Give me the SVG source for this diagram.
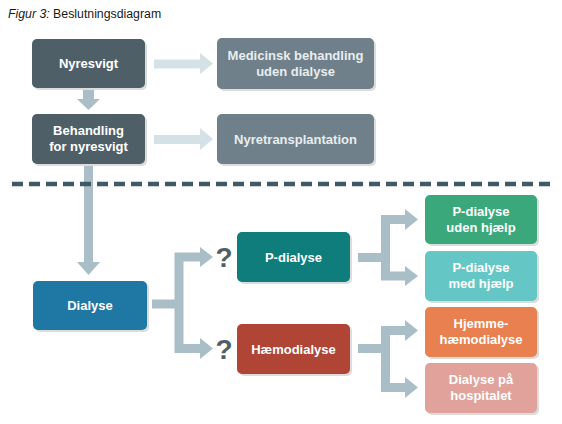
<svg xmlns="http://www.w3.org/2000/svg" width="562" height="424" viewBox="0 0 562 424">
<style>
.sh{fill:#dcdcdc}
.t{font-family:"Liberation Sans",Arial,sans-serif;font-weight:bold;font-size:13px;fill:#ffffff;text-anchor:middle}
.tl{fill:#e8edef}
.q{font-family:"Liberation Sans",Arial,sans-serif;font-weight:bold;font-size:28px;fill:#4f5f68;text-anchor:middle}
.c1{fill:#a9bec6}
.c2{fill:#d4e1e6}
.cs{fill:none;stroke:#a9bec6;stroke-width:9;stroke-linejoin:miter;stroke-linecap:butt}
</style>
<rect width="562" height="424" fill="#ffffff"/>
<text x="8" y="18" font-family="'Liberation Sans',Arial,sans-serif" font-size="12.3" fill="#1a1a1a"><tspan font-style="italic">Figur 3:</tspan> Beslutningsdiagram</text>

<g id="connectors">
  <polygon class="c2" points="154,59.5 200,59.5 200,53 213,63.5 200,74 200,68.5 154,68.5"/>
  <polygon class="c2" points="154,135 200,135 200,128 213,139 200,150 200,144 154,144"/>
  <polygon class="c1" points="83,88 94,88 94,99 100,99 88.5,110 77,99 83,99"/>
  <polygon class="c1" points="84,164 93,164 93,262 100,262 88.5,275 77,262 84,262"/>
  <path class="cs" d="M152,304 H179"/>
  <path class="cs" d="M201,257 H179 V348.5 H201" stroke-width="10"/>
  <polygon class="c1" points="200,247 213,257 200,267"/>
  <polygon class="c1" points="200,338 213,348.5 200,359"/>
  <path class="cs" d="M358,257.5 H386"/>
  <path class="cs" d="M406,219.5 H385.5 V276 H406"/>
  <polygon class="c1" points="405,209 418,219.5 405,230"/>
  <polygon class="c1" points="405,266 418,276 405,286"/>
  <path class="cs" d="M358,348.5 H386"/>
  <path class="cs" d="M406,330.5 H385.5 V387.5 H406"/>
  <polygon class="c1" points="405,320 418,330.5 405,341"/>
  <polygon class="c1" points="405,377 418,387.5 405,398"/>
</g>

<line x1="12" y1="184" x2="553" y2="184" stroke="#3f5a66" stroke-width="4.5" stroke-dasharray="11,6"/>

<text class="q" x="224" y="267">?</text>
<text class="q" x="224" y="359">?</text>

<g id="nyresvigt">
  <rect class="sh" x="34" y="41" width="113" height="49" rx="5"/>
  <rect x="32" y="39" width="113" height="49" rx="5" fill="#4f5f68"/>
  <text class="t" x="88.5" y="68">Nyresvigt</text>
</g>
<g id="behandling">
  <rect class="sh" x="34" y="116" width="113" height="50" rx="5"/>
  <rect x="32" y="114" width="113" height="50" rx="5" fill="#4f5f68"/>
  <text class="t" x="88.5" y="135">Behandling</text>
  <text class="t" x="88.5" y="151">for nyresvigt</text>
</g>
<g id="medicinsk">
  <rect class="sh" x="219" y="40" width="157" height="51" rx="5"/>
  <rect x="217" y="38" width="157" height="51" rx="5" fill="#6f808a"/>
  <text class="t tl" x="295.5" y="60">Medicinsk behandling</text>
  <text class="t tl" x="295.5" y="76">uden dialyse</text>
</g>
<g id="nyretransplantation">
  <rect class="sh" x="219" y="116" width="157" height="50" rx="5"/>
  <rect x="217" y="114" width="157" height="50" rx="5" fill="#6f808a"/>
  <text class="t tl" x="295.5" y="143.5">Nyretransplantation</text>
</g>
<g id="dialyse">
  <rect class="sh" x="35" y="283" width="114" height="49" rx="5"/>
  <rect x="33" y="281" width="114" height="49" rx="5" fill="#1f78a4"/>
  <text class="t" x="90" y="310">Dialyse</text>
</g>
<g id="p-dialyse">
  <rect class="sh" x="239" y="234" width="113" height="50" rx="5"/>
  <rect x="237" y="232" width="113" height="50" rx="5" fill="#0e7d7b"/>
  <text class="t" x="293.5" y="261.5">P-dialyse</text>
</g>
<g id="haemodialyse">
  <rect class="sh" x="239" y="326" width="113" height="50" rx="5"/>
  <rect x="237" y="324" width="113" height="50" rx="5" fill="#b04536"/>
  <text class="t" x="293.5" y="353.5">Hæmodialyse</text>
</g>
<g id="p-dialyse-uden">
  <rect class="sh" x="427" y="197" width="112" height="49" rx="5"/>
  <rect x="425" y="195" width="112" height="49" rx="5" fill="#3aa87a"/>
  <text class="t" x="481" y="216">P-dialyse</text>
  <text class="t" x="481" y="232">uden hjælp</text>
</g>
<g id="p-dialyse-med">
  <rect class="sh" x="427" y="253" width="112" height="50" rx="5"/>
  <rect x="425" y="251" width="112" height="50" rx="5" fill="#65c7c5"/>
  <text class="t" x="481" y="272">P-dialyse</text>
  <text class="t" x="481" y="288">med hjælp</text>
</g>
<g id="hjemme">
  <rect class="sh" x="427" y="309" width="112" height="50" rx="5"/>
  <rect x="425" y="307" width="112" height="50" rx="5" fill="#e8804f"/>
  <text class="t" x="481" y="328">Hjemme-</text>
  <text class="t" x="481" y="344">hæmodialyse</text>
</g>
<g id="hospitalet">
  <rect class="sh" x="427" y="365" width="112" height="50" rx="5"/>
  <rect x="425" y="363" width="112" height="50" rx="5" fill="#e0a29b"/>
  <text class="t" x="481" y="384">Dialyse på</text>
  <text class="t" x="481" y="400">hospitalet</text>
</g>
</svg>
